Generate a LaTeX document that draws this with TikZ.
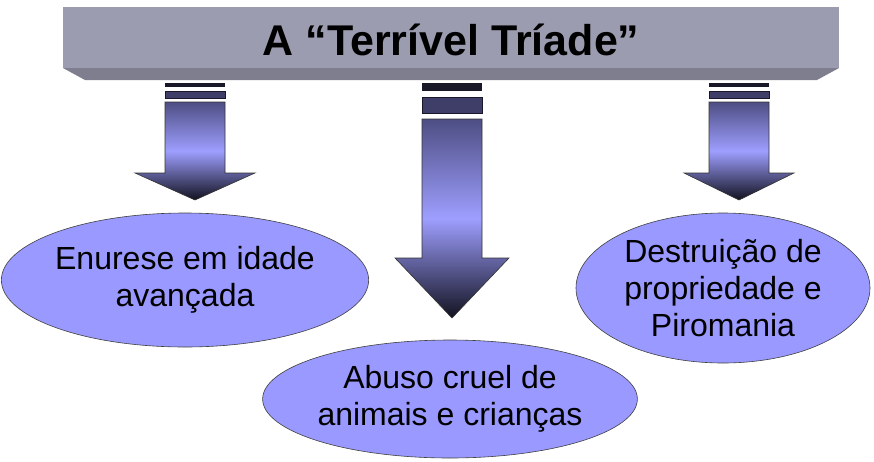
\documentclass[tikz,border=0pt]{standalone}
\usepackage{fontspec}
\setmainfont{Liberation Sans}
\usepackage{tikz}
\usetikzlibrary{shapes.geometric, positioning}
\definecolor{bannertop}{RGB}{156, 156, 176}
\definecolor{bannerside}{RGB}{126, 126, 142}
\definecolor{ovalfill}{RGB}{153, 153, 255}
\definecolor{arrowlight}{RGB}{158, 158, 255}
\definecolor{arrowdark}{RGB}{78, 78, 132}
\definecolor{arrowtip}{RGB}{18, 18, 32}
\definecolor{bardark}{RGB}{24, 24, 40}
\definecolor{barmid}{RGB}{62, 62, 104}

% block arrow: centre x, bar 1 bottom, bar 2 top, bar 2 bottom, shaft top, head start, tip, half shaft, half head
\newcommand{\triadarrow}[9]{%
  \fill[bardark] (#1-#8,83) rectangle (#1+#8,#2);
  \fill[barmid, draw=bardark, line width=0.5pt] (#1-#8,#3) rectangle (#1+#8,#4);
  \shade[top color=arrowdark, bottom color=arrowtip, middle color=arrowlight,
         draw=black!80, line width=0.6pt]
    (#1-#8,#5) -- (#1+#8,#5) -- (#1+#8,#6) -- (#1+#9,#6) -- (#1,#7)
    -- (#1-#9,#6) -- (#1-#8,#6) -- cycle;
}

\begin{document}
\begin{tikzpicture}[x=1pt, y=-1pt,
    oval/.style={ellipse, draw=black!75, line width=0.6pt, fill=ovalfill,
                 inner sep=0pt, align=center,
                 font=\fontsize{32}{37}\selectfont}]
    \useasboundingbox (0,0) rectangle (874,461);

    % banner with bevelled lower edge
    \fill[bannerside] (63,68) -- (839,68) -- (817,80) -- (85,80) -- cycle;
    \fill[bannertop] (63,7) rectangle (839,68);
    \node[font=\fontsize{43}{48}\selectfont\bfseries] (title) at (451,40)
        {A “Terrível Tríade”};

    % the three arrows
    \triadarrow{195}{87}{91}{98}{102}{173}{200}{30}{60}
    \triadarrow{452}{91}{97}{113}{119}{258}{318}{30}{57}
    \triadarrow{739}{87}{91}{98}{102}{173}{200}{30}{55}

    % the three traits
    \node[oval, minimum width=350pt, minimum height=134pt] (enurese) at (185,280)
        {Enurese em idade\\avançada};
    \node[oval, minimum width=350pt, minimum height=118pt] (abuso) at (450,399)
        {Abuso cruel de\\animais e crianças};
    \node[oval, minimum width=294pt, minimum height=150pt] (piromania) at (723,288)
        {Destruição de\\propriedade e\\Piromania};
\end{tikzpicture}
\end{document}
